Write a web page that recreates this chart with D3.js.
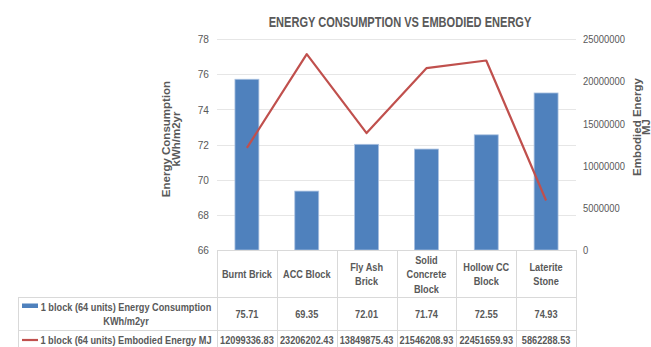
<!DOCTYPE html>
<html>
<head>
<meta charset="utf-8">
<script src="https://cdn.jsdelivr.net/npm/d3@7"></script>
<style>
  html, body { margin: 0; padding: 0; background: #fff; }
  svg { display: block; }
  text { fill: #595959; }
</style>
</head>
<body>
<svg id="chart" width="651" height="347"></svg>
<script>
// Wall materials compared
const categories = ["Burnt Brick", "ACC Block", "Fly Ash Brick", "Solid Concrete Block", "Hollow CC Block", "Laterite Stone"];
// Header cell lines for each material
const categoryLines = [["Burnt Brick"], ["ACC Block"], ["Fly Ash", "Brick"], ["Solid", "Concrete", "Block"], ["Hollow CC", "Block"], ["Laterite", "Stone"]];
// Energy consumption, kWh/m2yr (bars, left axis)
const energyConsumption = [75.71, 69.35, 72.01, 71.74, 72.55, 74.93];
// Embodied energy, MJ (line, right axis)
const embodiedEnergy = [12099336.83, 23206202.43, 13849875.43, 21546208.93, 22451659.93, 5862288.53];
// Axis ticks
const leftTicks = [66, 68, 70, 72, 74, 76, 78];
const rightTicks = [0, 5000000, 10000000, 15000000, 20000000, 25000000];
// Series names shown in the data table
const seriesNames = [["1 block (64 units) Energy Consumption", "KWh/m2yr"], ["1 block (64 units) Embodied Energy MJ"]];

const BLUE = "#4f81bd", RED = "#c0504d", GRID = "#d9d9d9", INK = "#595959";
const sans = "'Liberation Sans', Arial, sans-serif";

const svg = d3.select("#chart");
const plot = { left: 217, right: 576, top: 39, bottom: 250 };

const x = d3.scaleBand().domain(categories).range([plot.left, plot.right]).padding(0);
const yL = d3.scaleLinear().domain([66, 78]).range([plot.bottom, plot.top]);
const yR = d3.scaleLinear().domain([0, 25000000]).range([plot.bottom, plot.top]);

// Condensed text: a label drawn at (cx, cy) and squeezed horizontally by k
function narrowText(parent, cx, cy, str, opts) {
  const o = Object.assign({ size: 11.5, k: 0.8, anchor: "middle", bold: true }, opts || {});
  return parent.append("g")
    .attr("transform", `translate(${cx},${cy}) scale(${o.k},1)`)
    .append("text")
    .attr("text-anchor", o.anchor)
    .attr("font-family", sans).attr("font-size", o.size)
    .attr("font-weight", o.bold ? "bold" : "normal")
    .style("fill", INK)
    .text(str);
}

// Title
narrowText(svg, 400, 26.5, "ENERGY CONSUMPTION VS EMBODIED ENERGY", { size: 14, k: 0.79 });

// Horizontal gridlines
svg.append("g").selectAll("line").data(leftTicks.slice(1)).join("line")
  .attr("x1", plot.left).attr("x2", plot.right)
  .attr("y1", d => Math.round(yL(d)) + 0.5).attr("y2", d => Math.round(yL(d)) + 0.5)
  .attr("stroke", "#e6e6e6").attr("stroke-width", 1);

// Left axis
const gL = svg.append("g").attr("transform", `translate(${plot.left - 8},0)`)
  .call(d3.axisLeft(yL).tickValues(leftTicks).tickSize(0).tickPadding(0));
gL.select(".domain").remove();
gL.selectAll("text").attr("font-family", sans).attr("font-size", 11.5).style("fill", INK)
  .attr("transform", "scale(0.88,1)");

// Right axis
const gR = svg.append("g").attr("transform", `translate(${plot.right + 7},0)`)
  .call(d3.axisRight(yR).tickValues(rightTicks).tickFormat(d3.format("d")).tickSize(0).tickPadding(0));
gR.select(".domain").remove();
gR.selectAll("text").attr("font-family", sans).attr("font-size", 11.5).style("fill", INK)
  .attr("transform", "scale(0.82,1)");

// Axis titles
const leftTitle = svg.append("text")
  .attr("transform", "translate(170,139) rotate(-90)")
  .attr("text-anchor", "middle")
  .attr("font-family", sans).attr("font-weight", "bold").attr("font-size", 11.5)
  .style("fill", INK);
leftTitle.append("tspan").attr("x", 0).attr("dy", 0).text("Energy Consumption");
leftTitle.append("tspan").attr("x", 0).attr("dy", 9.5).text("kWh/m2yr");

const rightTitle = svg.append("text")
  .attr("transform", "translate(641,127) rotate(-90)")
  .attr("text-anchor", "middle")
  .attr("font-family", sans).attr("font-weight", "bold").attr("font-size", 11.5)
  .style("fill", INK);
rightTitle.append("tspan").attr("x", 0).attr("dy", 0).text("Embodied Energy");
rightTitle.append("tspan").attr("x", 0).attr("dy", 9).text("MJ");

// Bars
const barW = x.bandwidth() * 0.4;
svg.append("g").selectAll("rect").data(categories).join("rect")
  .attr("x", (d) => x(d) + (x.bandwidth() - barW) / 2)
  .attr("width", barW)
  .attr("y", (d, i) => yL(energyConsumption[i]))
  .attr("height", (d, i) => yL(66) - yL(energyConsumption[i]))
  .attr("fill", BLUE)
  .attr("stroke", "#a9c0e0").attr("stroke-width", 0.8);

// Embodied energy line
const line = d3.line()
  .x((d, i) => x(categories[i]) + x.bandwidth() / 2)
  .y(d => yR(d));
svg.append("path").datum(embodiedEnergy)
  .attr("d", line)
  .attr("fill", "none").attr("stroke", RED).attr("stroke-width", 2.2)
  .attr("stroke-linejoin", "round");

// Data table
const rowTop = 250, headBottom = 297, row1Bottom = 330, row2Bottom = 352, tableLeft = 18;
const tbl = svg.append("g").attr("stroke", GRID).attr("stroke-width", 1).attr("fill", "none");
[[plot.left, rowTop], [tableLeft, headBottom], [tableLeft, row1Bottom], [tableLeft, row2Bottom]].forEach(([x0, yy]) => {
  tbl.append("line").attr("x1", x0).attr("x2", plot.right).attr("y1", yy + 0.5).attr("y2", yy + 0.5);
});
const colEdges = categories.map(c => x(c)).concat([plot.right]);
tbl.selectAll("line.v").data(colEdges).join("line").attr("class", "v")
  .attr("x1", d => Math.round(d) + 0.5).attr("x2", d => Math.round(d) + 0.5)
  .attr("y1", rowTop).attr("y2", row2Bottom);
tbl.append("line").attr("x1", tableLeft + 0.5).attr("x2", tableLeft + 0.5).attr("y1", headBottom).attr("y2", row2Bottom);

const cells = svg.append("g");
// Category headers
categories.forEach((c, i) => {
  const lines = categoryLines[i];
  const lh = 14.5;
  const cx = x(c) + x.bandwidth() / 2;
  const y0 = 274 - (lines.length - 1) * lh / 2 + 4;
  lines.forEach((t, k) => narrowText(cells, cx, y0 + k * lh, t));
});

// Value rows
const fmt = d3.format(".2f");
[energyConsumption, embodiedEnergy].forEach((vals, r) => {
  const yy = r === 0 ? 318 : 343.5;
  vals.forEach((v, i) => narrowText(cells, x(categories[i]) + x.bandwidth() / 2, yy, fmt(v)));
});

// Series legend cells
narrowText(cells, 126, 311, seriesNames[0][0]);
narrowText(cells, 126, 325, seriesNames[0][1]);
svg.append("rect").attr("x", 22).attr("y", 303.5).attr("width", 16).attr("height", 4.5).attr("fill", BLUE);

narrowText(cells, 126, 343.5, seriesNames[1][0]);
svg.append("line").attr("x1", 22).attr("x2", 38).attr("y1", 340).attr("y2", 340)
  .attr("stroke", RED).attr("stroke-width", 2.2);
</script>
</body>
</html>
